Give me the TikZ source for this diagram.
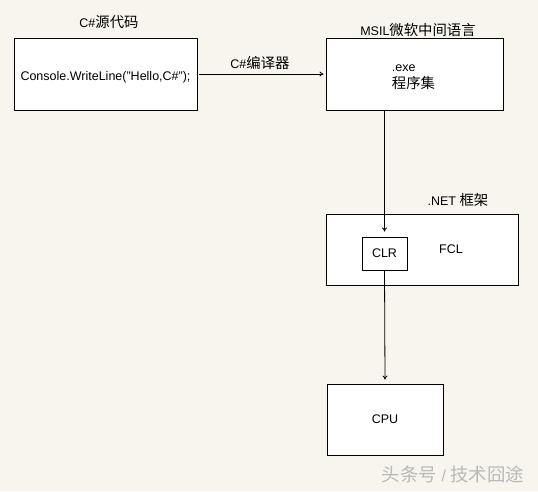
\documentclass[tikz,border=0pt]{standalone}
\usepackage{fontspec}
\setmainfont{Liberation Sans}
\newfontfamily\cjk[Scale=1.15]{Noto Sans CJK SC}
\usetikzlibrary{arrows.meta}
\definecolor{bgc}{RGB}{248,245,238}
\definecolor{wmc}{RGB}{185,185,185}
\begin{document}
\begin{tikzpicture}[x=1pt,y=-1pt,
  box/.style={draw=black,fill=white,line width=0.9pt,inner sep=0pt},
  txt/.style={inner sep=0pt,font=\fontsize{12.5}{15}\selectfont},
  arr/.style={line width=0.8pt,-{To[length=4pt,width=5pt]}}]
\fill[bgc] (0,0) rectangle (538,491);
\useasboundingbox (0,0) rectangle (538,491);
% boxes
\node[box,minimum width=183pt,minimum height=72pt] (src) at (105.5,74) {};
\node[box,minimum width=177pt,minimum height=72pt] (msil) at (414.5,74) {};
\node[box,minimum width=192pt,minimum height=71pt] (net) at (422.5,249.5) {};
\node[box,minimum width=45pt,minimum height=33pt] (clr) at (384.5,253.5) {};
\node[box,minimum width=116pt,minimum height=71pt] (cpu) at (385,419.5) {};
% texts
\node[txt] (srct) at (105.5,77) {Console.WriteLine("Hello,C\#");};
\node[txt] (srcl) at (109,22) {C\#{\cjk 源代码}};
\node[txt] (msill) at (418,30) {MSIL{\cjk 微软中间语言}};
\node[txt,align=left,font=\fontsize{12.5}{17}\selectfont] (exe) at (413.5,77) {.exe\\{\cjk 程序集}};
\node[txt] (netl) at (458,200) {.NET {\cjk 框架}};
\node[txt] (fcl) at (451,249) {FCL};
\node[txt] (clrt) at (clr.center) {CLR};
\node[txt] (cput) at (cpu.center) {CPU};
\node[txt] (comp) at (260,63) {C\#{\cjk 编译器}};
\node[inner sep=0pt,text=wmc,font=\fontsize{16}{18}\selectfont] (wm) at (453,474) {{\cjk 头条号} / {\cjk 技术囧途}};
% connectors
\draw[arr] (src.east) ++(2,0) -- ([xshift=-2pt]msil.west);
\draw[arr] (msil.south -| clr.north) -- ([yshift=5pt]clr.north);
\draw[arr] (clr.south) -- ([yshift=4pt]cpu.north);
\end{tikzpicture}
\end{document}
